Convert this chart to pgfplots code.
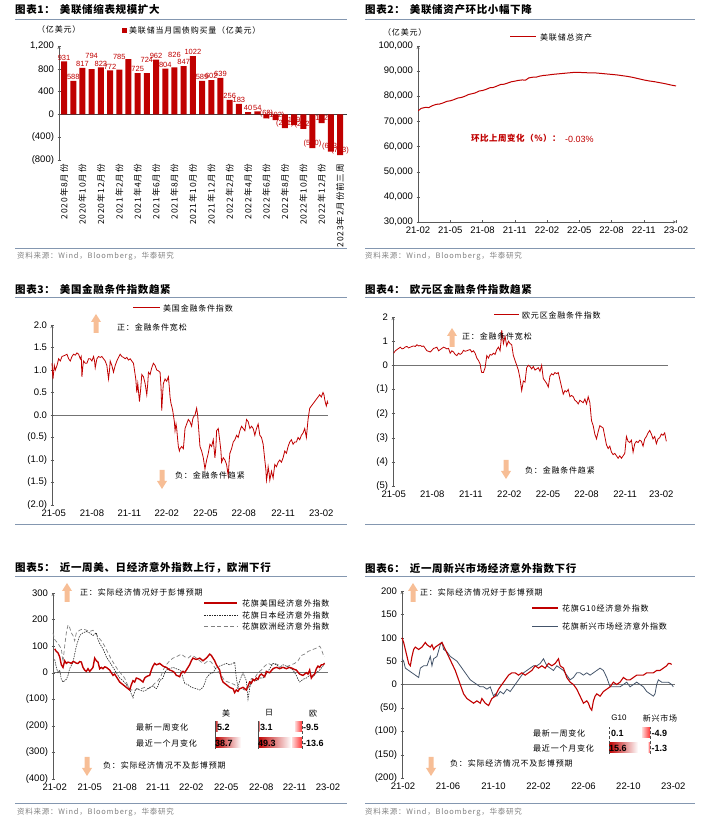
\documentclass[border=0pt]{standalone}
\usepackage{pgfplots}
\pgfplotsset{compat=1.18}
\usepackage{pgfplotstable}
\usepackage{fontspec}
\setmainfont{Liberation Sans}
\newfontfamily\cjk[LetterSpace=10]{Noto Sans CJK SC}
\newfontfamily\cjkt[LetterSpace=6]{Noto Sans CJK SC}

\definecolor{dred}{RGB}{192,0,0}
\definecolor{emblue}{RGB}{68,84,106}
\definecolor{rulec}{RGB}{132,151,176}
\definecolor{srcgray}{RGB}{128,128,128}
\definecolor{arrc}{RGB}{247,190,150}

\newcommand\ttl[3]{\node[anchor=west,inner sep=0] at (#1,#2) {\cjkt\bfseries\fontsize{10.5}{12}\selectfont #3};}
\newcommand\src[2]{\node[anchor=west,inner sep=0,text=srcgray] at (#1,#2) {\cjk\fontsize{7.5}{8}\selectfont 资料来源：Wind，Bloomberg，华泰研究};}
\newcommand\cn[3]{\node[anchor=west,inner sep=0] at (#1,#2) {\cjk\fontsize{8}{9}\selectfont #3};}
\newcommand\uparr[2]{\fill[arrc] (#1-2.5,#2) -- (#1-2.5,#2+11) -- (#1-5,#2+11) -- (#1,#2+19) -- (#1+5,#2+11) -- (#1+2.5,#2+11) -- (#1+2.5,#2) -- cycle;}
\newcommand\dnarr[2]{\fill[arrc] (#1-2.5,#2) -- (#1-2.5,#2-11) -- (#1-5,#2-11) -- (#1,#2-19) -- (#1+5,#2-11) -- (#1+2.5,#2-11) -- (#1+2.5,#2) -- cycle;}
\newcommand\val[3]{\node[anchor=west,inner sep=0] at (#1,#2) {\fontsize{9}{10}\selectfont\bfseries #3};}
\newcommand\up[1]{\raisebox{9pt}{#1}}
\newcommand\dn[2]{\raisebox{-#1pt}{#2}}

\pgfplotsset{
  base/.style={scale only axis, anchor=south west,
    axis line style={-,black!65}, tick style={black!65}, tick align=outside,
    major tick length=3pt,
    ticklabel style={font=\fontsize{9.5}{10}\selectfont},
    /pgf/number format/assume math mode=true, scaled ticks=false},
  linep/.style={base, axis y line=left, axis x line=bottom,
    x axis line style={draw=none}, xtick style={draw=none},
    extra y ticks={0}, extra y tick labels={},
    extra y tick style={grid=major, major grid style={black!55, line width=0.7pt}},
    no markers, clip=false},
}

\pgfplotstableread{
x y lab
0 931 931
1 588 588
2 817 817
3 794 \up{794}
4 823 823
5 772 772
6 785 \up{785}
7 970 {}
8 725 725
9 724 \up{724}
10 962 962
11 804 804
12 826 \up{826}
13 847 847
14 1022 1022
15 589 589
16 602 602
17 639 639
18 256 256
19 183 183
20 40 40
21 54 54
22 -68 (68)
23 -102 (102)
24 -241 (241)
25 -189 \dn{4}{(189)}
26 -252 \dn{8}{(252)}
27 -590 (590)
28 -152 (152)
29 -653 (653)
30 -713 (713)
}\fedbuy

\begin{document}
\begin{tikzpicture}[x=1pt,y=1pt]
\path[use as bounding box] (0,0) rectangle (703,835);

% ---------- panel 1
\ttl{15}{825}{图表1：\hspace{5pt}美联储缩表规模扩大}
\draw[rulec,line width=0.8pt] (15,816) -- (347,816);
\cn{37}{806}{（亿美元）}
\fill[dred] (122,802) rectangle (126.5,806.5);
\cn{129}{804.5}{美联储当月国债购买量（亿美元）}
\begin{axis}[base, at={(59pt,675pt)}, width=288pt, height=114pt,
  axis y line=left, axis x line=bottom, x axis line style={draw=none}, xtick style={draw=none},
  ybar, bar width=6pt, xmin=-0.55, xmax=30.75, ymin=-800, ymax=1200,
  ytick={-800,-400,0,400,800,1200}, yticklabels={(800),(400),0,400,800,{1,200}},
  extra y ticks={0}, extra y tick labels={},
  extra y tick style={grid=major, major grid style={black!75, line width=0.6pt}},
  xtick={0,2,...,30},
  xticklabels={2020年8月份,2020年10月份,2020年12月份,2021年2月份,2021年4月份,2021年6月份,2021年8月份,2021年10月份,2021年12月份,2022年2月份,2022年4月份,2022年6月份,2022年8月份,2022年10月份,2022年12月份,2023年2月份前三周},
  xticklabel style={rotate=90, anchor=east, font=\cjk\fontsize{8.5}{9}\selectfont, inner sep=1pt},
  point meta=explicit symbolic, nodes near coords, nodes near coords align={vertical},
  every node near coord/.append style={font=\fontsize{7.5}{8}\selectfont, text=dred, inner sep=1pt},
  clip=false]
\addplot[fill=dred, draw=none] table[x=x, y=y, meta=lab] {\fedbuy};
\end{axis}
\draw[rulec,line width=0.6pt] (15,587) -- (347,587);
\src{17}{579}

% ---------- panel 2
\ttl{365}{825}{图表2：\hspace{5pt}美联储资产环比小幅下降}
\draw[rulec,line width=0.8pt] (365,816) -- (695,816);
\cn{383}{803}{（亿美元）}
\draw[dred,line width=1pt] (510,798) -- (536,798);
\cn{540}{798}{美联储总资产}
\begin{axis}[base, at={(418pt,613pt)}, width=258pt, height=176pt,
  axis lines=left, xmin=0, xmax=24, ymin=30000, ymax=100000,
  ytick={30000,40000,...,100000},
  yticklabels={{30,000},{40,000},{50,000},{60,000},{70,000},{80,000},{90,000},{100,000}},
  xtick={0,3,...,24}, xticklabels={21-02,21-05,21-08,21-11,22-02,22-05,22-08,22-11,23-02},
  no markers]
\addplot[dred, line width=1pt] coordinates {
(0,74200)(0.3,75200)(0.7,75600)(1.0,75500)(1.3,76200)(1.7,76800)(2.0,76900)(2.3,77300)(2.7,78000)(3.0,78200)(3.3,78600)(3.7,79300)(4.0,79500)(4.3,79900)(4.7,80700)(5.0,81000)(5.3,81300)(5.7,82100)(6.0,82300)(6.3,82700)(6.7,83400)(7.0,83500)(7.3,84000)(7.7,84700)(8.0,84800)(8.3,85200)(8.7,85800)(9.0,86000)(9.3,86300)(9.7,86500)(10.0,86400)(10.3,87300)(10.7,87600)(11.0,87600)(11.3,88000)(11.7,88300)(12.0,88400)(12.5,88700)(13.0,88900)(13.5,89100)(14.0,89300)(14.5,89500)(15.0,89500)(15.5,89400)(16.0,89300)(16.5,89300)(17.0,89100)(17.5,88900)(18.0,88700)(18.5,88500)(19.0,88200)(19.5,87900)(20.0,87500)(20.5,87000)(21.0,86500)(21.5,86100)(22.0,85800)(22.5,85400)(23.0,85000)(23.5,84500)(24.0,84100)};
\end{axis}
\node[anchor=west,inner sep=0,text=dred] at (471,697) {\cjkt\bfseries\fontsize{8.5}{9}\selectfont 环比上周变化（\%）：};
\node[anchor=west,inner sep=0,text=dred] at (565,696) {\fontsize{9}{10}\selectfont -0.03\%};
\draw[rulec,line width=0.6pt] (365,587) -- (695,587);
\src{365}{579}

% ---------- panel 3
\ttl{15}{545}{图表3：\hspace{5pt}美国金融条件指数趋紧}
\draw[rulec,line width=0.8pt] (15,538) -- (347,538);
\begin{axis}[linep, at={(52pt,330pt)}, width=276pt, height=180pt,
  xmin=155, xmax=985, ymin=-2, ymax=2, ytick={-2,-1.5,...,2},
  yticklabels={(2.0),(1.5),(1.0),(0.5),0.0,0.5,1.0,1.5,2.0},
  xtick={160,275,388,500,617,732,850,965},
  xticklabels={21-05,21-08,21-11,22-02,22-05,22-08,22-11,23-02}]
\addplot[dred, line width=0.8pt] coordinates {
(155,1.15)(158,0.8)(162,1.1)(165,1.0)(170,1.1)(175,1.25)(180,1.2)(185,1.3)(192,1.32)(200,1.35)(205,1.25)(210,1.2)(215,1.3)(220,1.35)(225,1.33)(230,1.38)(235,1.35)(240,1.25)(243,1.3)(245,0.85)(248,1.1)(250,1.2)(255,1.15)(260,1.15)(265,1.25)(270,1.25)(275,1.2)(280,1.3)(283,1.2)(285,1.05)(290,1.25)(295,1.3)(300,1.28)(305,1.3)(310,1.25)(315,1.2)(320,1.1)(325,0.8)(328,1.0)(330,1.2)(335,1.1)(340,0.95)(345,1.1)(350,1.2)(355,1.28)(360,1.35)(365,1.3)(370,1.28)(375,1.25)(380,1.28)(385,1.22)(390,1.25)(395,1.2)(400,1.15)(403,1.0)(407,0.8)(410,0.5)(413,0.7)(418,0.3)(422,0.6)(425,0.9)(430,0.85)(435,0.7)(438,0.55)(440,0.45)(443,0.7)(445,0.95)(450,0.9)(455,1.05)(460,1.15)(465,1.1)(470,1.0)(475,0.98)(480,0.95)(483,0.6)(485,0.1)(488,0.5)(490,0.7)(495,0.8)(500,0.75)(505,0.85)(508,0.6)(510,0.4)(513,0.25)(515,0.2)(518,0.1)(520,0.0)(523,-0.15)(525,-0.35)(528,-0.2)(530,-0.3)(533,-0.55)(535,-0.7)(538,-0.8)(540,-0.75)(545,-0.7)(550,-0.75)(553,-0.5)(555,-0.3)(560,-0.2)(565,-0.1)(570,-0.15)(575,-0.25)(578,-0.1)(580,-0.05)(585,0.0)(590,0.15)(593,0.0)(595,-0.2)(598,-0.5)(600,-0.7)(605,-0.8)(610,-0.95)(613,-1.1)(615,-1.2)(620,-1.0)(625,-0.85)(630,-0.65)(635,-0.7)(640,-0.55)(645,-0.95)(648,-0.7)(650,-0.35)(655,-0.3)(660,-0.6)(663,-0.8)(665,-1.05)(670,-0.95)(675,-1.0)(680,-1.1)(685,-1.35)(688,-1.0)(690,-0.85)(695,-0.75)(700,-0.6)(705,-0.55)(710,-0.45)(715,-0.5)(720,-0.35)(725,-0.25)(730,-0.3)(735,-0.35)(740,-0.1)(745,-0.15)(750,-0.3)(755,-0.25)(760,-0.3)(765,-0.45)(770,-0.3)(775,-0.2)(780,-0.45)(785,-0.5)(790,-0.65)(795,-1.0)(798,-1.2)(800,-1.45)(803,-1.3)(805,-1.15)(808,-1.3)(810,-1.45)(815,-1.25)(820,-1.4)(825,-1.1)(830,-1.15)(835,-1.05)(840,-1.0)(845,-1.05)(850,-0.95)(855,-0.8)(860,-0.85)(865,-0.7)(870,-0.6)(875,-0.55)(880,-0.65)(885,-0.6)(890,-0.6)(895,-0.5)(900,-0.55)(905,-0.45)(910,-0.4)(915,-0.3)(920,-0.5)(925,-0.1)(930,0.15)(935,0.2)(940,0.25)(945,0.3)(950,0.35)(955,0.4)(960,0.45)(965,0.4)(970,0.5)(973,0.45)(975,0.35)(978,0.25)(980,0.2)(983,0.3)(985,0.25)};
\end{axis}
\draw[dred,line width=1pt] (133,527) -- (160,527);
\cn{163}{527}{美国金融条件指数}
\uparr{96}{502}
\cn{117}{508}{正：金融条件宽松}
\dnarr{162}{365}
\cn{175}{360}{负：金融条件趋紧}
\draw[rulec,line width=0.6pt] (15,311) -- (347,311);

% ---------- panel 4
\ttl{365}{545}{图表4：\hspace{5pt}欧元区金融条件指数趋紧}
\draw[rulec,line width=0.8pt] (365,538) -- (695,538);
\begin{axis}[linep, at={(393pt,349pt)}, width=275pt, height=169pt,
  xmin=128, xmax=955, ymin=-5, ymax=2, ytick={-5,...,2},
  yticklabels={(5),(4),(3),(2),(1),0,1,2},
  xtick={130,246,362,478,594,710,826,935},
  xticklabels={21-05,21-08,21-11,22-02,22-05,22-08,22-11,23-02}]
\addplot[dred, line width=0.8pt] coordinates {
(130,0.5)(135,0.6)(140,0.65)(145,0.7)(150,0.75)(155,0.68)(160,0.7)(165,0.76)(170,0.78)(175,0.72)(180,0.75)(185,0.78)(190,0.8)(195,0.78)(200,0.85)(205,0.8)(210,0.82)(215,0.78)(220,0.8)(225,0.7)(230,0.6)(235,0.58)(240,0.55)(245,0.62)(250,0.7)(255,0.72)(260,0.75)(265,0.6)(270,0.65)(275,0.7)(280,0.75)(285,0.72)(290,0.68)(295,0.7)(300,0.5)(305,0.6)(310,0.55)(315,0.45)(320,0.4)(325,0.5)(330,0.45)(335,0.5)(340,0.62)(345,0.58)(350,0.6)(355,0.63)(360,0.65)(365,0.55)(370,0.6)(375,0.5)(380,0.3)(385,0.2)(390,0.05)(393,-0.2)(395,-0.3)(400,-0.3)(405,-0.1)(408,0.2)(410,0.4)(415,0.3)(420,0.45)(425,0.42)(430,0.5)(435,0.45)(440,0.65)(445,0.75)(450,0.6)(453,1.0)(455,1.45)(458,1.1)(460,0.9)(465,1.2)(470,0.8)(475,1.0)(480,0.9)(485,0.85)(490,0.4)(495,0.2)(500,0.0)(505,-0.2)(510,-0.55)(515,-1.05)(520,-0.65)(525,-0.7)(530,-0.1)(535,0.0)(540,-0.05)(545,-0.15)(550,-0.05)(555,-0.2)(560,-0.15)(565,-0.1)(570,-0.25)(575,0.0)(580,-0.55)(585,-0.65)(590,-0.75)(595,-0.9)(600,-0.45)(605,-0.35)(610,-0.4)(615,-0.3)(620,-0.35)(625,-0.3)(630,-0.6)(635,-0.9)(640,-1.2)(645,-1.05)(650,-1.1)(655,-1.0)(660,-1.3)(665,-1.25)(670,-1.3)(675,-1.45)(680,-1.5)(685,-1.6)(690,-1.45)(695,-1.5)(700,-1.55)(705,-1.4)(710,-1.6)(715,-1.3)(720,-1.55)(725,-2.3)(730,-2.5)(735,-2.85)(740,-3.05)(745,-2.75)(750,-2.5)(755,-2.55)(760,-2.6)(765,-2.95)(770,-3.3)(775,-3.45)(780,-3.35)(785,-3.6)(790,-3.7)(795,-3.65)(800,-3.75)(805,-3.85)(810,-3.75)(815,-3.85)(820,-3.75)(825,-3.65)(830,-2.95)(835,-3.15)(840,-3.2)(845,-3.1)(850,-3.6)(855,-3.25)(860,-3.15)(865,-3.2)(870,-3.1)(875,-3.15)(880,-3.35)(885,-3.05)(890,-2.95)(895,-2.8)(900,-2.7)(905,-2.85)(910,-3.05)(915,-2.95)(920,-3.25)(925,-3.05)(930,-3.0)(935,-2.85)(940,-2.9)(945,-2.8)(950,-3.15)};
\end{axis}
\draw[dred,line width=1pt] (494,520) -- (519,520);
\cn{522}{520}{欧元区金融条件指数}
\uparr{452}{488}
\cn{462}{499}{正：金融条件宽松}
\dnarr{506}{375}
\cn{525}{365}{负：金融条件趋紧}
\draw[rulec,line width=0.6pt] (365,311) -- (695,311);

% ---------- panel 5
\ttl{15}{267}{图表5：\hspace{5pt}近一周美、日经济意外指数上行，欧洲下行}
\draw[rulec,line width=0.8pt] (15,259) -- (347,259);
\begin{axis}[linep, at={(53pt,56pt)}, width=275pt, height=186pt,
  xmin=160, xmax=985, ymin=-400, ymax=300, ytick={-400,-300,...,300},
  yticklabels={(400),(300),(200),(100),0,100,200,300},
  xtick={165,270,375,475,575,680,785,885,985},
  xticklabels={21-02,21-05,21-08,21-11,22-02,22-05,22-08,22-11,23-02}]
\addplot[black!50, line width=0.7pt, dash pattern=on 4pt off 2.5pt] coordinates {
(160,150)(165,125)(175,110)(185,90)(190,40)(195,100)(200,150)(205,180)(210,170)(215,150)(220,140)(225,120)(230,150)(240,160)(250,165)(260,160)(270,155)(280,160)(290,145)(295,135)(305,120)(315,100)(325,75)(335,50)(345,30)(355,10)(365,-5)(375,-20)(385,-50)(395,-65)(405,-65)(415,-60)(425,-60)(435,-55)(445,-60)(455,-55)(465,-40)(475,-30)(485,-10)(490,10)(500,30)(510,45)(520,55)(530,60)(545,70)(555,60)(565,55)(575,65)(585,60)(595,50)(605,40)(615,35)(625,45)(635,40)(645,20)(655,5)(665,-10)(675,-30)(685,-35)(695,-40)(705,-45)(715,-60)(725,-60)(735,-65)(745,-60)(755,-40)(765,-20)(775,0)(785,10)(795,25)(805,35)(815,30)(825,35)(835,30)(845,20)(855,20)(865,25)(875,30)(885,35)(895,45)(905,65)(915,70)(925,80)(935,85)(945,90)(955,95)(960,100)(965,90)(970,70)(975,60)};
\addplot[black!85, line width=0.6pt, dash pattern=on 1.5pt off 1pt] coordinates {
(165,50)(170,20)(175,0)(180,10)(185,-25)(190,-35)(195,-30)(200,-25)(205,-10)(210,15)(220,40)(230,100)(240,140)(250,150)(260,155)(270,150)(280,140)(290,150)(295,125)(300,110)(310,90)(320,60)(330,40)(340,20)(350,0)(360,-20)(370,-30)(380,-45)(390,-60)(395,-80)(400,-95)(405,-70)(410,-60)(420,-65)(430,-70)(440,-65)(450,-55)(460,-50)(470,-60)(475,-50)(480,-30)(490,-20)(495,0)(500,10)(510,15)(520,20)(530,15)(540,10)(545,5)(550,-20)(555,-40)(565,-45)(575,-55)(590,-60)(600,-65)(610,-55)(615,-40)(620,-20)(630,-5)(640,0)(650,20)(660,25)(670,30)(680,35)(690,30)(700,35)(705,40)(710,-20)(715,-55)(720,-30)(730,0)(740,-30)(745,-100)(750,-60)(755,-20)(760,-25)(770,-30)(780,-20)(790,-20)(800,-5)(810,15)(820,35)(830,30)(840,20)(850,30)(860,25)(870,20)(880,10)(890,-10)(895,-25)(900,-35)(910,-25)(920,-20)(930,-10)(940,-15)(950,0)(960,10)(970,25)(975,40)};
\addplot[dred, line width=1.4pt] coordinates {
(165,90)(170,80)(175,75)(180,60)(185,30)(190,20)(195,45)(200,35)(205,40)(210,38)(215,35)(220,42)(225,40)(230,36)(235,35)(240,42)(245,40)(250,20)(255,10)(260,5)(265,15)(270,5)(275,12)(280,20)(285,55)(290,45)(295,40)(300,15)(305,20)(310,15)(315,22)(320,20)(325,15)(330,10)(335,0)(340,-10)(345,-5)(350,-15)(355,-25)(360,-35)(365,-40)(370,-45)(375,-50)(380,-55)(385,-60)(390,-65)(395,-45)(400,-30)(405,-35)(410,-20)(415,-22)(420,-25)(425,-30)(430,-35)(435,-20)(440,-15)(445,-12)(450,-10)(455,10)(460,25)(465,35)(470,30)(475,32)(480,35)(485,30)(490,25)(495,22)(500,20)(505,15)(510,10)(515,8)(520,5)(525,0)(530,-10)(535,-12)(540,-15)(545,0)(550,5)(555,0)(560,10)(565,20)(570,30)(575,45)(580,55)(585,52)(590,50)(595,52)(600,55)(605,50)(610,45)(615,50)(620,55)(625,62)(630,70)(635,65)(640,55)(645,45)(650,30)(655,20)(660,10)(665,-20)(670,-35)(675,-40)(680,-45)(685,-50)(690,-55)(695,-58)(700,-60)(705,-75)(710,-65)(715,-70)(720,-60)(725,-58)(730,-55)(735,-60)(740,-65)(745,-50)(750,-35)(755,-40)(760,-25)(765,-30)(770,-20)(775,-25)(780,-10)(785,-5)(790,-10)(795,-15)(800,5)(805,2)(810,0)(815,8)(820,15)(825,18)(830,20)(835,18)(840,15)(845,18)(850,20)(855,18)(860,15)(865,18)(870,20)(875,18)(880,15)(885,12)(890,10)(895,2)(900,-5)(905,-8)(910,-10)(915,-5)(920,0)(925,-5)(930,10)(935,-20)(940,-10)(945,-5)(950,15)(955,25)(960,20)(965,30)(970,30)(975,35)};
\end{axis}
\draw[dred,line width=1.4pt] (204,232) -- (237,232);
\draw[black!85,line width=0.6pt,dash pattern=on 1.5pt off 1pt] (204,220) -- (237,220);
\draw[black!50,line width=0.7pt,dash pattern=on 4pt off 2.5pt] (204,209) -- (237,209);
\cn{242}{232}{花旗美国经济意外指数}
\cn{242}{220}{花旗日本经济意外指数}
\cn{242}{209}{花旗欧洲经济意外指数}
\uparr{67}{233}
\cn{80}{243}{正：实际经济情况好于彭博预期}
\dnarr{87}{78}
\cn{103}{70}{负：实际经济情况不及彭博预期}
% table
\node[inner sep=0] at (226,122) {\cjk\fontsize{8}{9}\selectfont 美};
\node[inner sep=0] at (269,122) {\cjk\fontsize{8}{9}\selectfont 日};
\node[inner sep=0] at (313,122) {\cjk\fontsize{8}{9}\selectfont 欧};
\cn{136}{108}{最新一周变化}
\cn{136}{92}{最近一个月变化}
\shade[left color=dred, right color=dred!30] (215,103) rectangle (218,113);
\shade[left color=dred, right color=white] (215,87) rectangle (241,97);
\shade[left color=dred, right color=dred!30] (258,103) rectangle (259.5,113);
\shade[left color=dred, right color=white] (258,87) rectangle (291,97);
\shade[left color=red!15, right color=red!80] (295,103) rectangle (302,113);
\shade[left color=red!15, right color=red!80] (292,87) rectangle (302,97);
\draw[black!70,line width=0.4pt] (215,86) -- (215,114) (258,86) -- (258,114);
\draw[black!70,line width=0.4pt,densely dashed] (302,86) -- (302,114);
\val{217}{108}{5.2}
\val{260}{108}{3.1}
\val{303}{108}{-9.5}
\val{215}{92}{38.7}
\val{258}{92}{49.3}
\val{303}{92}{-13.6}
\draw[rulec,line width=0.6pt] (15,32) -- (347,32);
\src{17}{23}

% ---------- panel 6
\ttl{365}{267}{图表6：\hspace{5pt}近一周新兴市场经济意外指数下行}
\draw[rulec,line width=0.8pt] (365,259) -- (695,259);
\begin{axis}[linep, at={(402pt,57pt)}, width=273pt, height=187pt,
  xmin=155, xmax=975, ymin=-200, ymax=200, ytick={-200,-150,...,200},
  yticklabels={(200),(150),(100),(50),0,50,100,150,200},
  xtick={158,293,430,565,700,835,970},
  xticklabels={21-02,21-06,21-10,22-02,22-06,22-10,23-02}]
\addplot[emblue, line width=0.8pt] coordinates {
(155,55)(160,50)(165,35)(175,30)(185,25)(195,20)(205,15)(210,35)(220,40)(230,40)(240,60)(245,40)(250,55)(260,60)(270,85)(275,90)(280,75)(290,70)(300,60)(310,55)(320,50)(330,40)(340,30)(350,20)(360,10)(370,5)(380,0)(390,-5)(400,-5)(410,-10)(420,-5)(430,-25)(435,-20)(440,-25)(450,-15)(460,-20)(470,-10)(480,-15)(490,-5)(500,5)(510,15)(520,25)(530,30)(540,35)(550,40)(560,40)(570,45)(580,55)(590,40)(600,35)(610,30)(620,40)(630,35)(640,30)(650,20)(660,10)(670,15)(680,25)(690,25)(700,20)(710,25)(720,20)(730,25)(740,30)(750,35)(760,30)(770,15)(780,-5)(790,-5)(800,-5)(810,-5)(820,0)(830,5)(840,-5)(850,0)(860,5)(870,0)(880,-5)(890,-15)(900,-20)(910,-25)(915,-20)(920,0)(925,10)(935,5)(945,5)(955,5)(965,0)(970,-5)};
\addplot[dred, line width=1.1pt] coordinates {
(155,100)(160,90)(165,75)(170,60)(175,45)(180,40)(185,60)(190,75)(195,80)(205,75)(215,80)(220,85)(225,90)(230,85)(240,80)(245,85)(250,75)(255,80)(265,85)(275,90)(285,75)(295,60)(305,45)(315,30)(325,10)(335,-10)(340,-20)(350,-30)(360,-35)(370,-40)(380,-35)(390,-40)(395,-30)(405,-40)(415,-45)(425,-30)(435,-25)(445,-10)(455,0)(465,10)(475,20)(485,25)(495,25)(505,20)(515,25)(525,20)(535,25)(545,30)(555,40)(565,35)(575,40)(585,35)(595,45)(605,40)(615,45)(625,55)(630,40)(640,35)(650,15)(660,5)(670,0)(680,-10)(690,-25)(700,-40)(710,-35)(715,-40)(720,-50)(725,-55)(730,-35)(735,-25)(740,-20)(750,-25)(760,-15)(770,-10)(780,-5)(790,5)(800,0)(810,5)(820,15)(830,10)(840,10)(850,15)(860,20)(870,20)(880,20)(890,25)(900,25)(910,25)(920,30)(930,30)(940,35)(950,40)(955,45)(960,45)(965,43)};
\end{axis}
\draw[dred,line width=1.1pt] (532,227) -- (558,227);
\draw[emblue,line width=0.8pt] (532,209) -- (558,209);
\cn{562}{227}{花旗G10经济意外指数}
\cn{562}{209}{花旗新兴市场经济意外指数}
\uparr{413}{233}
\cn{420}{243}{正：实际经济情况好于彭博预期}
\dnarr{431}{78}
\cn{450}{72}{负：实际经济情况不及彭博预期}
% table
\node[inner sep=0] at (619,117) {\fontsize{8}{9}\selectfont G10};
\node[inner sep=0] at (660,117) {\cjk\fontsize{8}{9}\selectfont 新兴市场};
\cn{533}{102}{最新一周变化}
\cn{533}{87}{最近一个月变化}
\shade[left color=dred, right color=white] (609,82) rectangle (638,92);
\shade[left color=red!15, right color=red!80] (642,97) rectangle (650,107);
\shade[left color=red!15, right color=red!80] (648,82) rectangle (650,92);
\draw[black!70,line width=0.4pt,densely dashed] (609,81) -- (609,108);
\draw[black!70,line width=0.4pt,densely dashed] (650,81) -- (650,108);
\val{611}{102}{0.1}
\val{651.5}{102}{-4.9}
\val{609}{87}{15.6}
\val{651.5}{87}{-1.3}
\draw[rulec,line width=0.6pt] (365,32) -- (695,32);
\src{365}{23}
\end{tikzpicture}
\end{document}
